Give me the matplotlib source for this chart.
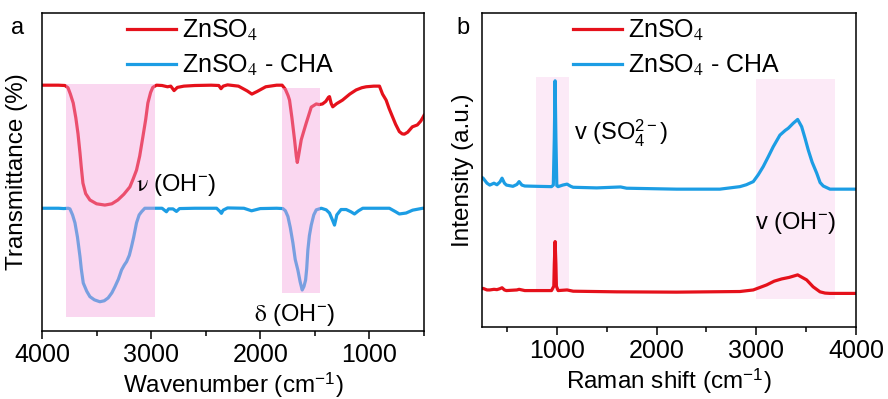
import matplotlib
matplotlib.use("Agg")
import matplotlib.pyplot as plt
from matplotlib.ticker import MultipleLocator, NullLocator

plt.rcParams["font.family"] = ["Liberation Sans", "DejaVu Sans"]
plt.rcParams["mathtext.fontset"] = "stix"
plt.rcParams["font.size"] = 17

RED = "#E5111B"
BLUE = "#1C9DE4"

# ---------------- FTIR spectra (wavenumber, cm-1 ; transmittance, offset a.u.) ----------------
ftir_wn_zn = [4000, 3850, 3790, 3762, 3740, 3714, 3690, 3670, 3652, 3640, 3625, 3600, 3561,
              3500, 3424, 3360, 3305, 3250, 3195, 3165, 3134, 3105, 3076, 3050, 3030, 3005,
              2985, 2951, 2900, 2850, 2820, 2790, 2760, 2700, 2600, 2450, 2380, 2360, 2340,
              2300, 2200, 2120, 2077, 2030, 1950, 1850, 1800, 1770, 1745, 1732, 1710, 1686,
              1670, 1661, 1650, 1625, 1600, 1579, 1555, 1533, 1487, 1460, 1430, 1400, 1375,
              1366, 1350, 1336, 1300, 1247, 1180, 1122, 1070, 1030, 960, 908, 880, 847, 820,
              789, 760, 726, 700, 680, 650, 607, 561, 530, 506, 500]
ftir_t_zn = [77.3, 77.3, 77.2, 76.5, 74.5, 71.7, 67.0, 62.0, 56.0, 51.5, 46.5, 43.2, 41.2,
             40.0, 39.6, 40.0, 41.2, 43.0, 45.3, 47.8, 50.6, 55.0, 61.0, 66.5, 71.7, 75.0,
             76.6, 77.3, 77.2, 76.8, 77.0, 75.6, 76.6, 77.0, 77.2, 77.3, 77.2, 76.2, 77.0,
             77.4, 77.0, 75.5, 74.5, 75.3, 76.8, 77.3, 77.3, 76.0, 74.0, 72.6, 67.0, 60.1,
             55.0, 53.0, 55.0, 60.1, 63.0, 65.4, 68.0, 70.4, 71.4, 71.2, 71.4, 72.2, 73.5,
             73.7, 71.5, 70.5, 71.5, 72.6, 74.5, 75.8, 76.5, 76.8, 77.0, 77.0, 74.5, 72.6, 70.0,
             67.4, 65.0, 62.7, 62.0, 61.9, 62.5, 64.2, 64.8, 66.0, 67.4, 67.8]

ftir_wn_cha = [4000, 3850, 3800, 3760, 3744, 3720, 3698, 3675, 3652, 3640, 3622, 3590, 3561,
               3520, 3470, 3430, 3394, 3360, 3332, 3300, 3271, 3245, 3225, 3200, 3180, 3160,
               3134, 3110, 3088, 3058, 3000, 2900, 2860, 2840, 2800, 2768, 2740, 2600, 2400,
               2370, 2356, 2340, 2300, 2150, 2080, 2000, 1850, 1793, 1770, 1747, 1725, 1701,
               1680, 1656, 1635, 1616, 1600, 1585, 1575, 1564, 1550, 1533, 1510, 1487, 1441,
               1396, 1366, 1340, 1320, 1305, 1299, 1260, 1213, 1170, 1137, 1100, 1061, 900,
               817, 760, 726, 664, 604, 512, 500]
ftir_t_cha = [38.6, 38.6, 38.5, 38.6, 38.4, 36.5, 34.0, 29.5, 23.4, 19.5, 15.1, 12.5, 10.8,
              9.8, 9.2, 9.5, 10.4, 12.0, 13.9, 16.3, 19.2, 20.8, 21.8, 23.8, 26.5, 29.5,
              34.0, 36.5, 37.5, 38.6, 38.6, 38.6, 37.5, 38.4, 38.4, 37.6, 38.5, 38.6, 38.6,
              37.6, 37.0, 38.0, 38.7, 38.6, 37.8, 38.5, 38.6, 38.5, 37.8, 36.0, 32.5, 27.7,
              22.5, 19.2, 15.5, 12.9, 14.0, 16.0, 19.5, 25.5, 30.0, 33.3, 36.5, 38.1, 38.6,
              38.1, 37.1, 35.0, 33.3, 35.5, 36.5, 38.2, 38.2, 37.5, 36.8, 37.8, 38.6, 38.6,
              38.6, 37.5, 36.8, 37.1, 38.0, 38.6, 38.6]

# ---------------- Raman spectra (Raman shift, cm-1 ; intensity, offset a.u.) ----------------
raman_x_cha = [250, 261, 300, 328, 370, 400, 430, 451, 475, 495, 560, 600, 622, 650, 679,
               800, 947, 965, 975, 983, 991, 1000, 1013, 1060, 1103, 1140, 1164, 1400, 1640,
               1700, 2200, 2635, 2836, 2900, 2970, 3020, 3070, 3120, 3170, 3237, 3290, 3321,
               3371, 3415, 3455, 3490, 3521, 3560, 3606, 3640, 3672, 3739, 4000]
raman_i_cha = [47.6, 47.4, 45.8, 45.2, 45.8, 45.3, 46.2, 47.4, 45.8, 45.2, 44.8, 45.4, 46.3,
               45.2, 44.9, 44.8, 44.7, 45.2, 60.0, 78.4, 60.0, 45.0, 44.7, 45.2, 45.5, 44.8,
               44.5, 44.3, 44.6, 44.2, 43.9, 43.9, 44.7, 45.3, 46.3, 48.5, 51.1, 54.2, 57.4,
               61.1, 62.6, 63.3, 64.9, 66.1, 63.8, 60.0, 56.4, 52.5, 49.0, 46.0, 44.9, 43.9,
               43.9]

raman_x_zn = [250, 261, 300, 328, 370, 400, 430, 451, 475, 495, 600, 622, 679, 947, 970,
              975, 983, 991, 996, 1013, 1103, 1164, 1600, 2200, 2836, 2970, 3104, 3180, 3254,
              3330, 3415, 3505, 3570, 3639, 3690, 3739, 4000]
raman_i_zn = [12.2, 12.3, 11.8, 11.8, 12.0, 11.9, 12.2, 12.5, 11.8, 11.6, 11.8, 12.0, 11.6,
              11.6, 13.0, 20.0, 27.2, 20.0, 13.0, 11.6, 11.8, 11.4, 11.2, 11.1, 11.3, 11.8,
              13.4, 14.6, 15.3, 15.8, 16.6, 15.0, 12.8, 11.2, 10.8, 10.7, 10.7]

series_labels = ["ZnSO$_{4}$", "ZnSO$_{4}$ - CHA"]

fig = plt.figure(figsize=(8.88, 3.99), dpi=100)
ax_a = fig.add_axes([42 / 888, 1 - 331 / 399, 382 / 888, 318 / 399])
ax_b = fig.add_axes([482 / 888, 1 - 327 / 399, 374 / 888, 314 / 399])

LW = 2.3

# ---- panel a: FTIR ----
ax_a.plot(ftir_wn_zn, ftir_t_zn, color=RED, lw=LW, label=series_labels[0], zorder=2)
ax_a.plot(ftir_wn_cha, ftir_t_cha, color=BLUE, lw=LW, label=series_labels[1], zorder=2)
# band highlights sit on top of the traces
ax_a.axvspan(2965, 3780, ymin=(331 - 317) / 318, ymax=(331 - 84) / 318,
             color="#F5A3DD", alpha=0.43, lw=0, zorder=3)
ax_a.axvspan(1450, 1803, ymin=(331 - 293) / 318, ymax=(331 - 88) / 318,
             color="#F5A3DD", alpha=0.43, lw=0, zorder=3)
ax_a.set_xlim(4000, 500)
ax_a.set_ylim(0, 100)
ax_a.xaxis.set_major_locator(MultipleLocator(1000))
ax_a.xaxis.set_minor_locator(MultipleLocator(500))
ax_a.yaxis.set_major_locator(NullLocator())
ax_a.set_xlabel("Wavenumber (cm$^{\\mathregular{-1}}$)", labelpad=2, fontsize=17.5)
ax_a.set_ylabel("Transmittance (%)", labelpad=10, fontsize=17.5)
ax_a.text(3140, 45.9, "$\\mathrm{\\nu}$ (OH$^{\\mathregular{-}}$)", ha="left", va="center",
          fontsize=17, zorder=4)
ax_a.text(1686, 5.0, "$\\mathrm{\\delta}$ (OH$^{\\mathregular{-}}$)", ha="center", va="center",
          fontsize=17, zorder=4)

# ---- panel b: Raman ----
ax_b.axvspan(790, 1120, ymin=(327 - 291) / 314, ymax=(327 - 77) / 314,
             color="#FCEAF7", lw=0, zorder=0)
ax_b.axvspan(2995, 3790, ymin=(327 - 299) / 314, ymax=(327 - 79) / 314,
             color="#FCEAF7", lw=0, zorder=0)
ax_b.plot(raman_x_zn, raman_i_zn, color=RED, lw=LW, label=series_labels[0], zorder=2)
ax_b.plot(raman_x_cha, raman_i_cha, color=BLUE, lw=LW, label=series_labels[1], zorder=2)
ax_b.set_xlim(250, 4000)
ax_b.set_ylim(0, 100)
ax_b.xaxis.set_major_locator(MultipleLocator(1000))
ax_b.xaxis.set_minor_locator(MultipleLocator(500))
ax_b.yaxis.set_major_locator(NullLocator())
ax_b.set_xlabel("Raman shift (cm$^{\\mathregular{-1}}$)", labelpad=2, fontsize=17.5)
ax_b.set_ylabel("Intensity (a.u.)", labelpad=6, fontsize=17.5)
ax_b.text(1170, 61.8, "v (SO$_{\\mathregular{4}}^{\\mathregular{2-}}$)", ha="left", va="center",
          fontsize=17)
ax_b.text(3393, 33.1, "v (OH$^{\\mathregular{-}}$)", ha="center", va="center", fontsize=17)

for ax, anchor in ((ax_a, (0.222, 0.985)), (ax_b, (0.243, 0.985))):
    for s in ax.spines.values():
        s.set_linewidth(1.1)
    ax.tick_params(axis="x", which="major", direction="out", length=6, width=1.1, pad=3,
                   labelsize=18)
    ax.tick_params(axis="x", which="minor", direction="out", length=3.5, width=1.1)
    ax.legend(loc="upper left", bbox_to_anchor=anchor, frameon=False, fontsize=18,
              handlelength=1.96, handletextpad=0.24, labelspacing=0.38, borderpad=0,
              borderaxespad=0)

fig.text(18 / 888, 1 - 28 / 399, "a", ha="center", va="center", fontsize=17)
fig.text(463 / 888, 1 - 28 / 399, "b", ha="center", va="center", fontsize=17)

fig.savefig("out.png", dpi=100, facecolor="white")
